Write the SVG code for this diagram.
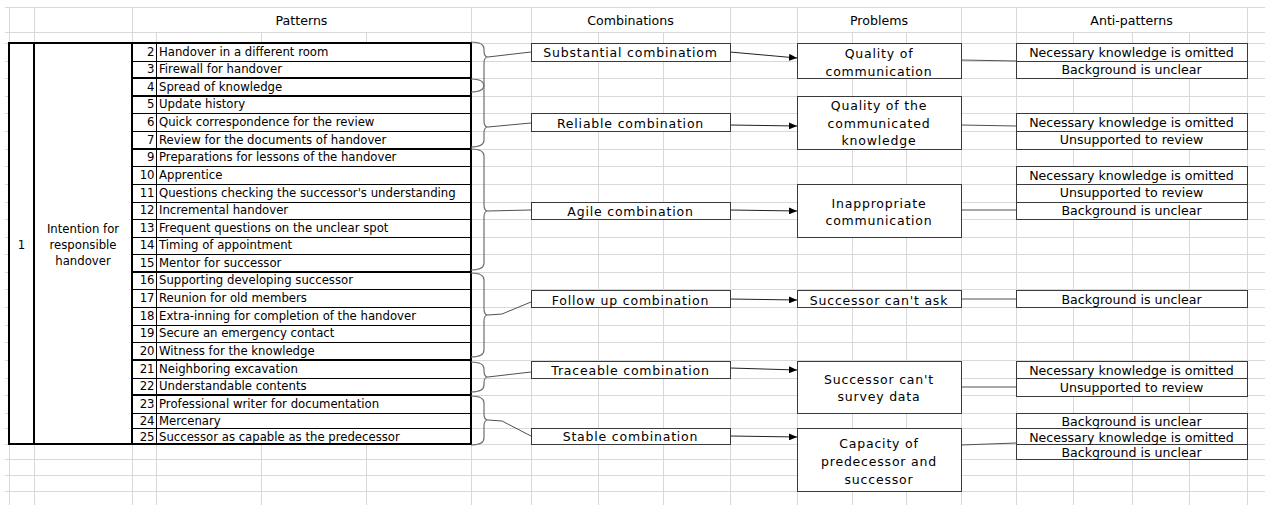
<svg xmlns="http://www.w3.org/2000/svg" width="1265" height="506" viewBox="0 0 1265 506">
<style>
.grid{stroke:#d9d9d9;stroke-width:1;fill:none;shape-rendering:crispEdges}
.thin{stroke:#000;stroke-width:1;fill:none;shape-rendering:crispEdges}
.thick{stroke:#000;stroke-width:2;fill:none;shape-rendering:crispEdges}
.t{font-family:"DejaVu Sans","Liberation Sans",sans-serif;font-size:11.7px;fill:#000}
.n{font-family:"DejaVu Sans","Liberation Sans",sans-serif;font-size:11.7px;fill:#000;text-anchor:end}
.c{font-family:"DejaVu Sans","Liberation Sans",sans-serif;font-size:11.7px;fill:#000;text-anchor:middle}
.hdr{font-family:"DejaVu Sans","Liberation Sans",sans-serif;font-size:12.6px;fill:#000;text-anchor:middle}
.lbl{font-family:"DejaVu Sans","Liberation Sans",sans-serif;font-size:12.5px;letter-spacing:0.8px;fill:#000;text-anchor:middle}
.ap{font-family:"DejaVu Sans","Liberation Sans",sans-serif;font-size:12.6px;fill:#000;text-anchor:middle}
.box{fill:#fff;stroke:#3a3a3a;stroke-width:1;shape-rendering:crispEdges}
.div{stroke:#3a3a3a;stroke-width:1;shape-rendering:crispEdges}
.brace{fill:none;stroke:#707070;stroke-width:1.2}
.conn{fill:none;stroke:#505050;stroke-width:1}
.arrow{fill:none;stroke:#222;stroke-width:1;marker-end:url(#ah)}
</style>
<defs>
<marker id="ah" markerUnits="userSpaceOnUse" markerWidth="8" markerHeight="7" refX="8" refY="3.5" orient="auto">
<path d="M0,0 L8,3.5 L0,7 z" fill="#000"/>
</marker>
</defs>
<rect x="0" y="0" width="1265" height="506" fill="#fff"/>
<g id="gridlines">
<path class="grid" d="M5,7.5H1265M5,32.5H1265M5,43.5H1265M5,61.5H1265M5,78.5H1265M5,96.5H1265M5,113.5H1265M5,131.5H1265M5,149.5H1265M5,166.5H1265M5,184.5H1265M5,202.5H1265M5,219.5H1265M5,237.5H1265M5,254.5H1265M5,272.5H1265M5,289.5H1265M5,307.5H1265M5,325.5H1265M5,342.5H1265M5,360.5H1265M5,378.5H1265M5,395.5H1265M5,413.5H1265M5,428.5H1265M5,444.5H1265M5,459.5H1265M5,475.5H1265M5,491.5H1265"/>
<path class="grid" d="M9.5,7V505M34.5,7V505M132.5,7V505M471.5,7V505M531.5,7V505M730.5,7V505M797.5,7V505M961.5,7V505M1016.5,7V505M1247.5,7V505M156.5,32V505M261.5,32V505M366.5,32V505M598.5,32V505M663.5,32V505M852.5,32V505M906.5,32V505M1073.5,32V505M1132.5,32V505M1189.5,32V505"/>
</g>
<g id="headers">
<text class="hdr" x="301.5" y="24.5">Patterns</text>
<text class="hdr" x="630.5" y="24.5">Combinations</text>
<text class="hdr" x="879" y="24.5">Problems</text>
<text class="hdr" x="1131.5" y="24.5">Anti-patterns</text>
</g>
<g id="patterns-table">
<rect x="9" y="43" width="462" height="401" fill="#fff"/>
<path class="thin" d="M132,61.5H471M132,113.5H471M132,131.5H471M132,166.5H471M132,184.5H471M132,202.5H471M132,219.5H471M132,237.5H471M132,254.5H471M132,289.5H471M132,307.5H471M132,325.5H471M132,342.5H471M132,378.5H471M132,413.5H471M132,428.5H471M156.5,43V444"/>
<path class="thick" d="M132,78H471M132,96H471M132,149H471M132,272H471M132,360H471M132,395H471M34,43V444M132,43V444"/>
<rect class="thick" x="9" y="43" width="462" height="401"/>
<text class="c" x="21.5" y="249">1</text>
<text class="c" x="83" y="233">Intention for</text>
<text class="c" x="83" y="249">responsible</text>
<text class="c" x="83" y="265">handover</text>
<text class="n" x="154.5" y="56">2</text><text class="t" x="159" y="56">Handover in a different room</text>
<text class="n" x="154.5" y="73">3</text><text class="t" x="159" y="73">Firewall for handover</text>
<text class="n" x="154.5" y="91">4</text><text class="t" x="159" y="91">Spread of knowledge</text>
<text class="n" x="154.5" y="108">5</text><text class="t" x="159" y="108">Update history</text>
<text class="n" x="154.5" y="126">6</text><text class="t" x="159" y="126">Quick correspondence for the review</text>
<text class="n" x="154.5" y="144">7</text><text class="t" x="159" y="144">Review for the documents of handover</text>
<text class="n" x="154.5" y="161">9</text><text class="t" x="159" y="161">Preparations for lessons of the handover</text>
<text class="n" x="154.5" y="179">10</text><text class="t" x="159" y="179">Apprentice</text>
<text class="n" x="154.5" y="197">11</text><text class="t" x="159" y="197">Questions checking the successor's understanding</text>
<text class="n" x="154.5" y="214">12</text><text class="t" x="159" y="214">Incremental handover</text>
<text class="n" x="154.5" y="232">13</text><text class="t" x="159" y="232">Frequent questions on the unclear spot</text>
<text class="n" x="154.5" y="249">14</text><text class="t" x="159" y="249">Timing of appointment</text>
<text class="n" x="154.5" y="267">15</text><text class="t" x="159" y="267">Mentor for successor</text>
<text class="n" x="154.5" y="284">16</text><text class="t" x="159" y="284">Supporting developing successor</text>
<text class="n" x="154.5" y="302">17</text><text class="t" x="159" y="302">Reunion for old members</text>
<text class="n" x="154.5" y="320">18</text><text class="t" x="159" y="320">Extra-inning for completion of the handover</text>
<text class="n" x="154.5" y="337">19</text><text class="t" x="159" y="337">Secure an emergency contact</text>
<text class="n" x="154.5" y="355">20</text><text class="t" x="159" y="355">Witness for the knowledge</text>
<text class="n" x="154.5" y="373">21</text><text class="t" x="159" y="373">Neighboring excavation</text>
<text class="n" x="154.5" y="390">22</text><text class="t" x="159" y="390">Understandable contents</text>
<text class="n" x="154.5" y="408">23</text><text class="t" x="159" y="408">Professional writer for documentation</text>
<text class="n" x="154.5" y="424.5">24</text><text class="t" x="159" y="424.5">Mercenary</text>
<text class="n" x="154.5" y="440.5">25</text><text class="t" x="159" y="440.5">Successor as capable as the predecessor</text>
</g>
<g id="connectors">
<path class="brace" d="M471,42 C478,42 484,44 484,49 L484,51 C484,55 486,57 488,57 C486,57 484,59 484,63 L484,85 C484,90 478,92 471,92"/>
<path class="brace" d="M471,79 C478,79 484,81 484,86 L484,121 C484,125 486,127 488,127 C486,127 484,129 484,133 L484,140 C484,145 478,147 471,147"/>
<path class="brace" d="M471,149 C478,149 484,151 484,156 L484,205 C484,209 486,211 488,211 C486,211 484,213 484,217 L484,263 C484,268 478,270 471,270"/>
<path class="brace" d="M471,273 C478,273 484,275 484,280 L484,309 C484,313 486,315 488,315 C486,315 484,317 484,321 L484,350 C484,355 478,357 471,357"/>
<path class="brace" d="M471,362 C478,362 484,364 484,369 L484,371 C484,375 486,377 488,377 C486,377 484,379 484,383 L484,385 C484,390 478,392 471,392"/>
<path class="brace" d="M471,396 C478,396 484,398 484,403 L484,414 C484,418 486,420 488,420 C486,420 484,422 484,426 L484,438 C484,443 478,445 471,445"/>
<path class="conn" d="M488,57 L531,52"/>
<path class="conn" d="M488,127 L531,123"/>
<path class="conn" d="M488,211 L531,210"/>
<path class="conn" d="M488,315 L502,314 L531,302"/>
<path class="conn" d="M488,377 L531,372"/>
<path class="conn" d="M488,420 L502,421 L531,436"/>
<path class="arrow" d="M730,52 L797,58"/>
<path class="arrow" d="M730,125 L797,126"/>
<path class="arrow" d="M730,210 L797,211"/>
<path class="arrow" d="M730,299 L797,300"/>
<path class="arrow" d="M730,368 L797,370"/>
<path class="arrow" d="M730,436 L797,437"/>
<path class="conn" d="M961,60 L1016,61"/>
<path class="conn" d="M961,125 L1016,126"/>
<path class="conn" d="M961,210 L1016,210"/>
<path class="conn" d="M961,299 L1016,299"/>
<path class="conn" d="M961,387 L1016,387"/>
<path class="conn" d="M961,445 L1016,443"/>
</g>
<g id="comb-substantial"><rect class="box" x="531.5" y="43.5" width="199" height="18"/><text class="lbl" x="630.5" y="57">Substantial combinatiom</text></g>
<g id="comb-reliable"><rect class="box" x="531.5" y="113.5" width="199" height="18"/><text class="lbl" x="630.5" y="127.5">Reliable combination</text></g>
<g id="comb-agile"><rect class="box" x="531.5" y="202.5" width="199" height="17"/><text class="lbl" x="630.5" y="216">Agile combination</text></g>
<g id="comb-followup"><rect class="box" x="531.5" y="290.5" width="199" height="17"/><text class="lbl" x="630.5" y="304.5">Follow up combination</text></g>
<g id="comb-traceable"><rect class="box" x="531.5" y="361.5" width="199" height="17"/><text class="lbl" x="630.5" y="375">Traceable combination</text></g>
<g id="comb-stable"><rect class="box" x="531.5" y="428.5" width="199" height="16"/><text class="lbl" x="630.5" y="441">Stable combination</text></g>
<g id="prob-quality-comm"><rect class="box" x="797.5" y="43.5" width="164" height="35"/><text class="lbl" x="879" y="58">Quality of</text><text class="lbl" x="879" y="75.5">communication</text></g>
<g id="prob-quality-know"><rect class="box" x="797.5" y="96.5" width="164" height="53"/><text class="lbl" x="879" y="110">Quality of the</text><text class="lbl" x="879" y="127.5">communicated</text><text class="lbl" x="879" y="145">knowledge</text></g>
<g id="prob-inappropriate"><rect class="box" x="797.5" y="184.5" width="164" height="53"/><text class="lbl" x="879" y="207.5">Inappropriate</text><text class="lbl" x="879" y="225">communication</text></g>
<g id="prob-cant-ask"><rect class="box" x="797.5" y="290.5" width="164" height="17"/><text class="lbl" x="879" y="304.5">Successor can't ask</text></g>
<g id="prob-cant-survey"><rect class="box" x="797.5" y="361.5" width="164" height="52"/><text class="lbl" x="879" y="383.5">Successor can't</text><text class="lbl" x="879" y="401">survey data</text></g>
<g id="prob-capacity"><rect class="box" x="797.5" y="428.5" width="164" height="63"/><text class="lbl" x="879" y="447.5">Capacity of</text><text class="lbl" x="879" y="465.5">predecessor and</text><text class="lbl" x="879" y="484">successor</text></g>
<g id="anti-1"><rect class="box" x="1016.5" y="43.5" width="231" height="35"/><path class="div" d="M1016,61.5H1247"/><text class="ap" x="1131.5" y="56.5">Necessary knowledge is omitted</text><text class="ap" x="1131.5" y="74">Background is unclear</text></g>
<g id="anti-2"><rect class="box" x="1016.5" y="113.5" width="231" height="36"/><path class="div" d="M1016,131.5H1247"/><text class="ap" x="1131.5" y="126.5">Necessary knowledge is omitted</text><text class="ap" x="1131.5" y="144">Unsupported to review</text></g>
<g id="anti-3"><rect class="box" x="1016.5" y="166.5" width="231" height="53"/><path class="div" d="M1016,184.5H1247M1016,202.5H1247"/><text class="ap" x="1131.5" y="179.5">Necessary knowledge is omitted</text><text class="ap" x="1131.5" y="197">Unsupported to review</text><text class="ap" x="1131.5" y="215">Background is unclear</text></g>
<g id="anti-4"><rect class="box" x="1016.5" y="290.5" width="231" height="17"/><text class="ap" x="1131.5" y="304">Background is unclear</text></g>
<g id="anti-5"><rect class="box" x="1016.5" y="361.5" width="231" height="35"/><path class="div" d="M1016,378.5H1247"/><text class="ap" x="1131.5" y="374.5">Necessary knowledge is omitted</text><text class="ap" x="1131.5" y="392">Unsupported to review</text></g>
<g id="anti-6"><rect class="box" x="1016.5" y="413.5" width="231" height="46"/><path class="div" d="M1016,428.5H1247M1016,444.5H1247"/><text class="ap" x="1131.5" y="426">Background is unclear</text><text class="ap" x="1131.5" y="441.5">Necessary knowledge is omitted</text><text class="ap" x="1131.5" y="457">Background is unclear</text></g>
</svg>
